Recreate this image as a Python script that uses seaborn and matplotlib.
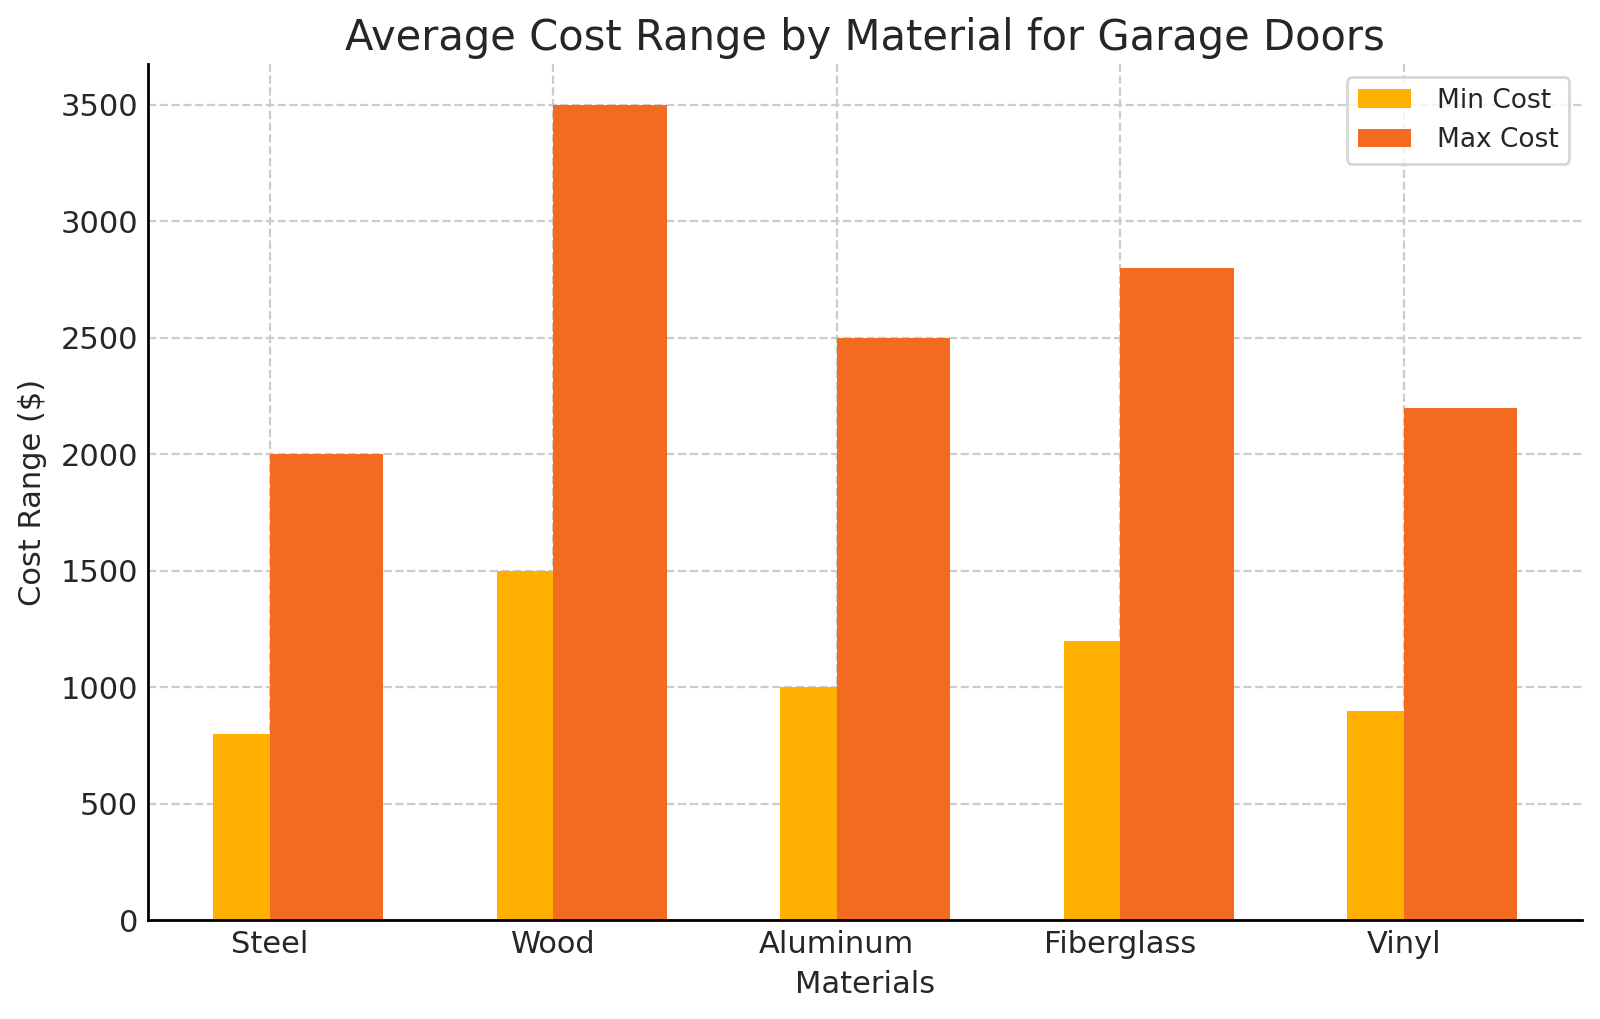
import pandas as pd
import seaborn as sns
import matplotlib.pyplot as plt

# Data
MATERIALS = ["Steel", "Wood", "Aluminum", "Fiberglass", "Vinyl"]
MIN_COST = [800, 1500, 1000, 1200, 900]
MAX_COST = [2000, 3500, 2500, 2800, 2200]

df = pd.DataFrame({"material": MATERIALS, "min": MIN_COST, "max": MAX_COST})

MIN_COLOR = "#FFB000"
MAX_COLOR = "#F26B21"
MIN_W = 0.2
MAX_W = 0.4

sns.set_style("white")
plt.rcParams["font.family"] = ["DejaVu Sans"]
plt.rcParams["xtick.direction"] = "in"
plt.rcParams["ytick.direction"] = "in"

fig, ax = plt.subplots(figsize=(8, 5.095), dpi=200)
fig.subplots_adjust(left=0.0925, right=0.989, top=0.937, bottom=0.097)

sns.barplot(df, x="material", y="min", order=MATERIALS, color=MIN_COLOR,
            saturation=1, width=MIN_W, label="Min Cost", ax=ax, zorder=2,
            linewidth=0, edgecolor="none")
n_min = len(ax.patches)
sns.barplot(df, x="material", y="max", order=MATERIALS, color=MAX_COLOR,
            saturation=1, width=MAX_W, label="Max Cost", ax=ax, zorder=2,
            linewidth=0, edgecolor="none")

# place min bars left of the tick, max bars right of it
for i, p in enumerate(ax.patches):
    if i < n_min:
        p.set_x(p.get_x() - MIN_W / 2)
    else:
        p.set_x(p.get_x() + MAX_W / 2)

ax.set_xlim(-0.43, 4.63)
ax.set_ylim(0, 3675)
ax.grid(True, linestyle="--", color="#cccccc", linewidth=0.8, zorder=0)
ax.set_axisbelow(True)
for s in ["top", "right"]:
    ax.spines[s].set_visible(False)
for s in ["left", "bottom"]:
    ax.spines[s].set_color("black")
    ax.spines[s].set_linewidth(1.0)
ax.tick_params(axis="both", labelsize=11, length=3, color="black")

ax.set_title("Average Cost Range by Material for Garage Doors", fontsize=15,
             color="#262626", pad=5)
ax.set_xlabel("Materials", fontsize=11, labelpad=4)
ax.set_ylabel("Cost Range ($)", fontsize=11, labelpad=5)
ax.legend(loc="upper right", fontsize=9.5, frameon=True, edgecolor="#cccccc",
          handletextpad=1.0)

plt.savefig("out.png", dpi=200)
